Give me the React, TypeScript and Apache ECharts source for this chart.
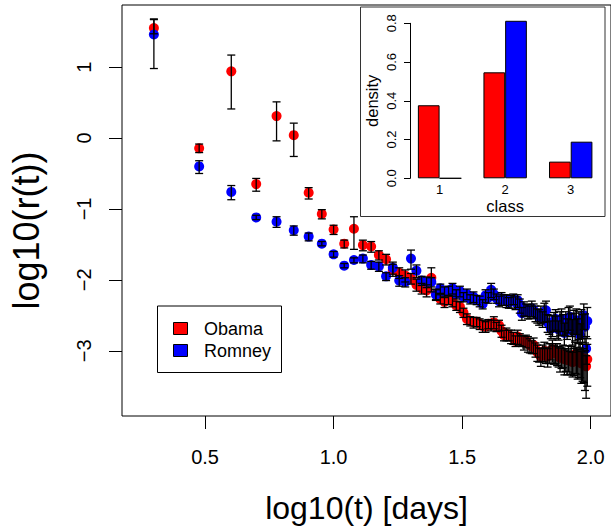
import React, { useEffect, useRef } from "react";
import * as echarts from "echarts";

// days t (x = log10(t))
const days = [
  2, 3, 4, 5, 6, 7, 8, 9, 10, 11,
  12, 13, 14, 15, 16, 17, 18, 19, 20, 21,
  22, 23, 24, 25, 26, 27, 28, 29, 30, 31,
  32, 33, 34, 35, 36, 37, 38, 39, 40, 41,
  42, 43, 44, 45, 46, 47, 48, 49, 50, 51,
  52, 53, 54, 55, 56, 57, 58, 59, 60, 61,
  62, 63, 64, 65, 66, 67, 68, 69, 70, 71,
  72, 73, 74, 75, 76, 77, 78, 79, 80, 81,
  82, 83, 84, 85, 86, 87, 88, 89, 90, 91,
  92, 93, 94, 95, 96, 97,
];

const obamaY = [
  1.55, -0.145, 0.94, -0.65, 0.31, 0.04, -0.77, -1.07, -1.29, -1.49,
  -1.28, -1.51, -1.53, -1.65, -1.71, -1.86, -1.9, -1.94, -1.98, -2.07,
  -2.12, -2.15, -1.97, -2.2, -2.27, -2.31, -2.28, -2.3, -2.36, -2.38,
  -2.46, -2.55, -2.58, -2.6, -2.59, -2.62, -2.65, -2.66, -2.62, -2.64,
  -2.6, -2.66, -2.64, -2.72, -2.78, -2.76, -2.78, -2.8, -2.82, -2.86,
  -2.8, -2.84, -2.86, -2.88, -2.86, -2.9, -2.92, -2.94, -2.92, -2.98,
  -3.02, -3.05, -3.08, -3.02, -3.0, -3.05, -3.08, -3.02, -3.0, -2.98,
  -3.04, -3.02, -3.03, -3.06, -3.1, -3.08, -3.05, -3.12, -3.1, -3.13,
  -3.08, -3.14, -3.1, -3.16, -3.12, -3.05, -3.1, -3.15, -3.08, -3.12,
  -3.18, -3.1, -3.15, -3.2, -3.22, -3.12,
];
const obamaUp = [
  0.12, 0.06, 0.23, 0.08, 0.2, 0.17, 0.07, 0.06, 0.06, 0.05,
  0.17, 0.07, 0.07, 0.06, 0.07, 0.08, 0.07, 0.08, 0.07, 0.08,
  0.07, 0.08, 0.14, 0.07, 0.06, 0.07, 0.06, 0.07, 0.06, 0.07,
  0.06, 0.07, 0.06, 0.07, 0.06, 0.07, 0.08, 0.07, 0.06, 0.07,
  0.08, 0.06, 0.07, 0.08, 0.07, 0.08, 0.07, 0.09, 0.08, 0.07,
  0.09, 0.08, 0.07, 0.09, 0.08, 0.1, 0.09, 0.08, 0.1, 0.09,
  0.1, 0.09, 0.11, 0.1, 0.12, 0.1, 0.11, 0.12, 0.1, 0.13,
  0.11, 0.12, 0.13, 0.12, 0.14, 0.12, 0.13, 0.15, 0.13, 0.14,
  0.15, 0.13, 0.16, 0.14, 0.15, 0.17, 0.15, 0.16, 0.18, 0.16,
  0.17, 0.19, 0.18, 0.2, 0.15, 0.21,
];
const obamaDown = [
  0.08, 0.06, 0.53, 0.1, 0.35, 0.3, 0.09, 0.07, 0.07, 0.06,
  0.29, 0.08, 0.08, 0.07, 0.08, 0.09, 0.08, 0.09, 0.08, 0.09,
  0.08, 0.09, 0.2, 0.08, 0.07, 0.08, 0.07, 0.08, 0.07, 0.08,
  0.07, 0.08, 0.07, 0.08, 0.07, 0.08, 0.09, 0.08, 0.07, 0.08,
  0.09, 0.07, 0.08, 0.09, 0.08, 0.1, 0.08, 0.1, 0.09, 0.08,
  0.11, 0.09, 0.08, 0.11, 0.1, 0.12, 0.11, 0.1, 0.12, 0.11,
  0.13, 0.11, 0.14, 0.13, 0.16, 0.13, 0.15, 0.16, 0.13, 0.18,
  0.15, 0.16, 0.18, 0.17, 0.2, 0.17, 0.19, 0.22, 0.19, 0.21,
  0.22, 0.19, 0.24, 0.21, 0.23, 0.27, 0.23, 0.25, 0.3, 0.26,
  0.28, 0.33, 0.3, 0.36, 0.45, 0.38,
];

const romneyY = [
  1.46, -0.4, -0.76, -1.12, -1.18, -1.3, -1.39, -1.49, -1.64, -1.8,
  -1.72, -1.7, -1.79, -1.81, -1.95, -1.83, -2.01, -2.03, -1.7, -1.87,
  -2.01, -2.03, -2.03, -2.21, -2.12, -2.17, -2.15, -2.12, -2.2, -2.16,
  -2.24, -2.2, -2.27, -2.24, -2.28, -2.3, -2.34, -2.22, -2.25, -2.14,
  -2.2, -2.26, -2.3, -2.26, -2.28, -2.29, -2.32, -2.3, -2.27, -2.32,
  -2.29, -2.36, -2.47, -2.4, -2.42, -2.44, -2.45, -2.4, -2.43, -2.47,
  -2.5, -2.52, -2.48, -2.55, -2.45, -2.43, -2.6, -2.62, -2.69, -2.64,
  -2.58, -2.55, -2.65, -2.7, -2.6, -2.55, -2.62, -2.75, -2.6, -2.68,
  -2.55, -2.52, -2.62, -2.72, -2.58, -2.64, -2.57, -2.7, -2.62, -2.78,
  -2.6, -2.66, -2.5, -2.66, -2.97, -2.58,
];
const romneyUp = [
  0.22, 0.08, 0.09, 0.03, 0.07, 0.06, 0.05, 0.03, 0.04, 0.03,
  0.03, 0.05, 0.05, 0.06, 0.05, 0.08, 0.07, 0.06, 0.12, 0.08,
  0.06, 0.07, 0.06, 0.07, 0.06, 0.07, 0.06, 0.07, 0.06, 0.07,
  0.06, 0.07, 0.06, 0.07, 0.06, 0.07, 0.06, 0.08, 0.07, 0.09,
  0.07, 0.06, 0.07, 0.08, 0.07, 0.08, 0.07, 0.08, 0.07, 0.08,
  0.08, 0.09, 0.08, 0.09, 0.08, 0.09, 0.08, 0.1, 0.09, 0.1,
  0.09, 0.1, 0.11, 0.1, 0.12, 0.13, 0.11, 0.12, 0.11, 0.13,
  0.12, 0.13, 0.14, 0.12, 0.15, 0.14, 0.13, 0.14, 0.15, 0.13,
  0.16, 0.15, 0.14, 0.16, 0.15, 0.17, 0.16, 0.15, 0.17, 0.16,
  0.18, 0.17, 0.16, 0.18, 0.17, 0.19,
];
const romneyDown = [
  0.48, 0.1, 0.11, 0.03, 0.08, 0.07, 0.06, 0.03, 0.04, 0.03,
  0.04, 0.06, 0.06, 0.07, 0.06, 0.09, 0.08, 0.07, 0.15, 0.1,
  0.07, 0.08, 0.07, 0.08, 0.07, 0.08, 0.07, 0.08, 0.07, 0.08,
  0.07, 0.08, 0.07, 0.08, 0.07, 0.08, 0.07, 0.1, 0.08, 0.11,
  0.08, 0.07, 0.08, 0.1, 0.08, 0.1, 0.08, 0.1, 0.08, 0.1,
  0.1, 0.11, 0.1, 0.11, 0.1, 0.11, 0.1, 0.12, 0.11, 0.12,
  0.11, 0.12, 0.14, 0.12, 0.15, 0.16, 0.14, 0.15, 0.14, 0.16,
  0.15, 0.16, 0.18, 0.15, 0.19, 0.18, 0.16, 0.18, 0.19, 0.16,
  0.2, 0.19, 0.18, 0.2, 0.19, 0.22, 0.2, 0.19, 0.22, 0.2,
  0.23, 0.22, 0.2, 0.23, 0.22, 0.25,
];

// inset
const classes = ["1", "2", "3"];
const obamaDensity = [0.377, 0.547, 0.086];
const romneyDensity = [0.0, 0.813, 0.189];

const xTicks = [0.5, 1.0, 1.5, 2.0];
const yTicks = [-3, -2, -1, 0, 1];

const FONT = "'Liberation Sans', Arial, Helvetica, sans-serif";

function minusFmt(v: number) {
  return v < 0 ? "\u2212" + Math.abs(v) : String(v);
}

function errData(y: number[], up: number[], down: number[]) {
  return days.map((t, i) => [Math.log10(t), y[i], y[i] - down[i], y[i] + up[i]]);
}

function renderErr(params: any, api: any) {
  const x = api.value(0);
  const lo = api.value(2);
  const hi = api.value(3);
  const top = api.coord([x, hi]);
  const bot = api.coord([x, lo]);
  const w = 4;
  const style = { stroke: "#000", lineWidth: 1.3 };
  return {
    type: "group",
    children: [
      { type: "line", shape: { x1: top[0], y1: top[1], x2: bot[0], y2: bot[1] }, style },
      { type: "line", shape: { x1: top[0] - w, y1: top[1], x2: top[0] + w, y2: top[1] }, style },
      { type: "line", shape: { x1: bot[0] - w, y1: bot[1], x2: bot[0] + w, y2: bot[1] }, style },
    ],
  };
}

export default function App() {
  const ref = useRef<HTMLDivElement>(null);
  useEffect(() => {
    if (!ref.current) return;
    const chart = echarts.init(ref.current, null, { renderer: "svg" });
    const option: any = {
      animation: false,
      backgroundColor: "#fff",
      textStyle: { fontFamily: FONT, color: "#000" },
      grid: [
        { left: 118, top: 5, width: 497, height: 415, show: true, borderColor: "#000", borderWidth: 1, backgroundColor: "transparent" },
        { left: 406.8, top: 23.3, width: 196.7, height: 155 },
      ],
      xAxis: [
        {
          type: "value",
          gridIndex: 0,
          min: 0.177,
          max: 2.079,
          axisLine: { show: false, onZero: false },
          splitLine: { show: false },
          axisTick: { show: true, length: 13, inside: false, customValues: xTicks, lineStyle: { color: "#000", width: 1 } },
          axisLabel: { customValues: xTicks, formatter: (v: number) => v.toFixed(1), fontSize: 20, color: "#000", margin: 31, fontFamily: FONT },
          name: "log10(t) [days]",
          nameLocation: "middle",
          nameGap: 76,
          nameTextStyle: { fontSize: 32, color: "#000", fontFamily: FONT },
        },
        {
          type: "category",
          gridIndex: 1,
          data: classes,
          z: 10,
          axisLine: { show: false, onZero: false },
          axisTick: { show: false },
          splitLine: { show: false },
          axisLabel: { fontSize: 13, color: "#000", margin: 5, fontFamily: FONT },
          name: "class",
          nameLocation: "middle",
          nameGap: 10,
          nameTextStyle: { fontSize: 16.5, color: "#000", fontFamily: FONT },
        },
      ],
      yAxis: [
        {
          type: "value",
          gridIndex: 0,
          min: -3.92,
          max: 1.876,
          axisLine: { show: false, onZero: false },
          splitLine: { show: false },
          axisTick: { show: true, length: 13, inside: false, customValues: yTicks, lineStyle: { color: "#000", width: 1 } },
          axisLabel: { customValues: yTicks, formatter: minusFmt, fontSize: 20, color: "#000", margin: 28, rotate: 90, fontFamily: FONT },
          name: "log10(r(t))",
          nameLocation: "middle",
          nameGap: 78,
          nameTextStyle: { fontSize: 36, color: "#000", fontFamily: FONT, padding: [0, 40, 0, 0] },
        },
        {
          type: "value",
          gridIndex: 1,
          min: 0,
          max: 0.8,
          interval: 0.2,
          offset: -3.2,
          z: 10,
          axisLine: { show: true, onZero: false, lineStyle: { color: "#000", width: 1 } },
          splitLine: { show: false },
          axisTick: { show: true, length: 6, inside: false, lineStyle: { color: "#000", width: 1 } },
          axisLabel: { formatter: (v: number) => v.toFixed(1), fontSize: 13, color: "#000", margin: 12, rotate: 90, fontFamily: FONT },
          name: "density",
          nameLocation: "middle",
          nameGap: 30,
          nameTextStyle: { fontSize: 16.5, color: "#000", fontFamily: FONT },
        },
      ],
      series: [
        {
          name: "Obama",
          type: "scatter",
          xAxisIndex: 0,
          yAxisIndex: 0,
          symbolSize: 10,
          itemStyle: { color: "#ff0000", opacity: 1 },
          data: days.map((t, i) => [Math.log10(t), obamaY[i]]),
          z: 2,
        },
        {
          name: "Romney",
          type: "scatter",
          xAxisIndex: 0,
          yAxisIndex: 0,
          symbolSize: 10,
          itemStyle: { color: "#0000ff", opacity: 1 },
          data: days.map((t, i) => [Math.log10(t), romneyY[i]]),
          z: 2,
        },
        {
          type: "custom",
          xAxisIndex: 0,
          yAxisIndex: 0,
          renderItem: renderErr,
          encode: { x: 0, y: [2, 3] },
          data: errData(obamaY, obamaUp, obamaDown),
          z: 3,
        },
        {
          type: "custom",
          xAxisIndex: 0,
          yAxisIndex: 0,
          renderItem: renderErr,
          encode: { x: 0, y: [2, 3] },
          data: errData(romneyY, romneyUp, romneyDown),
          z: 3,
        },
        {
          type: "bar",
          xAxisIndex: 1,
          yAxisIndex: 1,
          data: obamaDensity,
          barWidth: 21.7,
          barGap: "0%",
          clip: false,
          itemStyle: { color: "#ff0000", borderColor: "#000", borderWidth: 1 },
          z: 10,
        },
        {
          type: "bar",
          xAxisIndex: 1,
          yAxisIndex: 1,
          data: romneyDensity,
          barWidth: 21.7,
          barGap: "0%",
          clip: false,
          itemStyle: { color: "#0000ff", borderColor: "#000", borderWidth: 1 },
          z: 10,
        },
      ],
      graphic: [
        {
          type: "rect",
          z: 5,
          shape: { x: 360.5, y: 7, width: 244.5, height: 209.5 },
          style: { fill: "#fff", stroke: "#333", lineWidth: 1 },
        },
        {
          type: "rect",
          z: 5,
          shape: { x: 157.5, y: 306, width: 124, height: 66.5 },
          style: { fill: "#fff", stroke: "#000", lineWidth: 1 },
        },
        {
          type: "rect",
          z: 6,
          shape: { x: 173.5, y: 322.5, width: 14, height: 12 },
          style: { fill: "#ff0000", stroke: "#000", lineWidth: 1 },
        },
        {
          type: "rect",
          z: 6,
          shape: { x: 173.5, y: 344.5, width: 14, height: 12 },
          style: { fill: "#0000ff", stroke: "#000", lineWidth: 1 },
        },
        {
          type: "text",
          z: 6,
          x: 204,
          y: 329,
          style: { text: "Obama", fontSize: 18, fontFamily: FONT, fill: "#000", verticalAlign: "middle", align: "left" },
        },
        {
          type: "text",
          z: 6,
          x: 204,
          y: 351,
          style: { text: "Romney", fontSize: 18, fontFamily: FONT, fill: "#000", verticalAlign: "middle", align: "left" },
        },
      ],
    };
    chart.setOption(option);
    return () => chart.dispose();
  }, []);
  return (
    <div
      ref={ref}
      style={{ position: "absolute", left: 0, top: 0, width: 611, height: 529, overflow: "hidden" }}
    />
  );
}
